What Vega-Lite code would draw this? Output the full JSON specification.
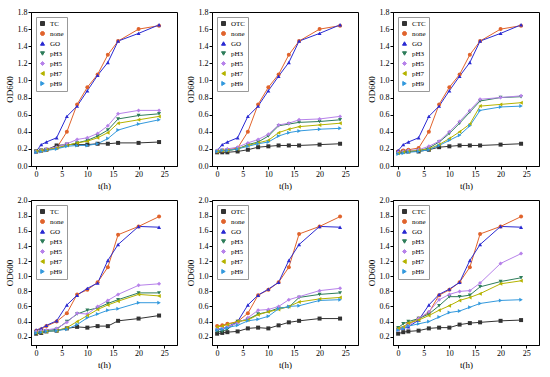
{
"$schema":"https://vega.github.io/schema/vega-lite/v6.json",
"padding":{"left":4,"top":7,"right":2,"bottom":2},
"background":"white",
"datasets":{
"a":[
{"t":0,"TC":0.17,"none":0.17,"GO":0.17,"pH3":0.17,"pH5":0.17,"pH7":0.17,"pH9":0.16},
{"t":1,"TC":0.18,"none":0.18,"GO":0.25,"pH3":0.18,"pH5":0.18,"pH7":0.18,"pH9":0.17},
{"t":2,"TC":0.19,"none":0.19,"GO":0.28,"pH3":0.19,"pH5":0.20,"pH7":0.19,"pH9":0.18},
{"t":4,"TC":0.24,"none":0.21,"GO":0.33,"pH3":0.21,"pH5":0.22,"pH7":0.21,"pH9":0.20},
{"t":6,"TC":0.25,"none":0.40,"GO":0.58,"pH3":0.24,"pH5":0.26,"pH7":0.24,"pH9":0.23},
{"t":8,"TC":0.25,"none":0.72,"GO":0.70,"pH3":0.27,"pH5":0.31,"pH7":0.27,"pH9":0.24},
{"t":10,"TC":0.25,"none":0.92,"GO":0.88,"pH3":0.30,"pH5":0.33,"pH7":0.29,"pH9":0.24},
{"t":12,"TC":0.26,"none":1.07,"GO":1.06,"pH3":0.35,"pH5":0.38,"pH7":0.33,"pH9":0.26},
{"t":14,"TC":0.26,"none":1.30,"GO":1.21,"pH3":0.42,"pH5":0.47,"pH7":0.39,"pH9":0.32},
{"t":16,"TC":0.27,"none":1.46,"GO":1.46,"pH3":0.55,"pH5":0.61,"pH7":0.50,"pH9":0.42},
{"t":20,"TC":0.27,"none":1.60,"GO":1.55,"pH3":0.59,"pH5":0.65,"pH7":0.54,"pH9":0.49},
{"t":24,"TC":0.28,"none":1.64,"GO":1.65,"pH3":0.61,"pH5":0.65,"pH7":0.58,"pH9":0.54}
],
"b":[
{"t":0,"OTC":0.16,"none":0.17,"GO":0.18,"pH3":0.17,"pH5":0.18,"pH7":0.17,"pH9":0.17},
{"t":1,"OTC":0.16,"none":0.18,"GO":0.25,"pH3":0.18,"pH5":0.19,"pH7":0.18,"pH9":0.18},
{"t":2,"OTC":0.16,"none":0.19,"GO":0.28,"pH3":0.18,"pH5":0.20,"pH7":0.18,"pH9":0.18},
{"t":4,"OTC":0.17,"none":0.21,"GO":0.33,"pH3":0.20,"pH5":0.22,"pH7":0.20,"pH9":0.20},
{"t":6,"OTC":0.19,"none":0.40,"GO":0.58,"pH3":0.25,"pH5":0.27,"pH7":0.24,"pH9":0.23},
{"t":8,"OTC":0.22,"none":0.72,"GO":0.70,"pH3":0.28,"pH5":0.31,"pH7":0.27,"pH9":0.26},
{"t":10,"OTC":0.23,"none":0.92,"GO":0.88,"pH3":0.35,"pH5":0.37,"pH7":0.30,"pH9":0.28},
{"t":12,"OTC":0.24,"none":1.07,"GO":1.05,"pH3":0.47,"pH5":0.48,"pH7":0.39,"pH9":0.35},
{"t":14,"OTC":0.24,"none":1.30,"GO":1.21,"pH3":0.49,"pH5":0.50,"pH7":0.43,"pH9":0.39},
{"t":16,"OTC":0.24,"none":1.46,"GO":1.46,"pH3":0.51,"pH5":0.54,"pH7":0.46,"pH9":0.41},
{"t":20,"OTC":0.25,"none":1.60,"GO":1.55,"pH3":0.52,"pH5":0.55,"pH7":0.48,"pH9":0.43},
{"t":24,"OTC":0.26,"none":1.64,"GO":1.65,"pH3":0.54,"pH5":0.58,"pH7":0.50,"pH9":0.44}
],
"c":[
{"t":0,"CTC":0.16,"none":0.17,"GO":0.18,"pH3":0.15,"pH5":0.16,"pH7":0.15,"pH9":0.14},
{"t":1,"CTC":0.17,"none":0.18,"GO":0.25,"pH3":0.16,"pH5":0.17,"pH7":0.16,"pH9":0.15},
{"t":2,"CTC":0.17,"none":0.19,"GO":0.28,"pH3":0.17,"pH5":0.18,"pH7":0.17,"pH9":0.16},
{"t":4,"CTC":0.17,"none":0.21,"GO":0.33,"pH3":0.18,"pH5":0.19,"pH7":0.18,"pH9":0.17},
{"t":6,"CTC":0.19,"none":0.40,"GO":0.58,"pH3":0.21,"pH5":0.23,"pH7":0.20,"pH9":0.19},
{"t":8,"CTC":0.22,"none":0.72,"GO":0.70,"pH3":0.28,"pH5":0.29,"pH7":0.25,"pH9":0.24},
{"t":10,"CTC":0.23,"none":0.92,"GO":0.88,"pH3":0.38,"pH5":0.40,"pH7":0.32,"pH9":0.30},
{"t":12,"CTC":0.24,"none":1.07,"GO":1.05,"pH3":0.50,"pH5":0.52,"pH7":0.40,"pH9":0.36},
{"t":14,"CTC":0.24,"none":1.30,"GO":1.21,"pH3":0.63,"pH5":0.65,"pH7":0.49,"pH9":0.47},
{"t":16,"CTC":0.24,"none":1.46,"GO":1.46,"pH3":0.76,"pH5":0.78,"pH7":0.70,"pH9":0.65},
{"t":20,"CTC":0.25,"none":1.60,"GO":1.55,"pH3":0.80,"pH5":0.80,"pH7":0.72,"pH9":0.69},
{"t":24,"CTC":0.26,"none":1.64,"GO":1.65,"pH3":0.81,"pH5":0.82,"pH7":0.74,"pH9":0.70}
],
"d":[
{"t":0,"TC":0.24,"none":0.28,"GO":0.29,"pH3":0.26,"pH5":0.27,"pH7":0.25,"pH9":0.25},
{"t":1,"TC":0.25,"none":0.30,"GO":0.31,"pH3":0.27,"pH5":0.28,"pH7":0.26,"pH9":0.26},
{"t":2,"TC":0.27,"none":0.34,"GO":0.35,"pH3":0.28,"pH5":0.29,"pH7":0.27,"pH9":0.27},
{"t":4,"TC":0.28,"none":0.40,"GO":0.41,"pH3":0.30,"pH5":0.31,"pH7":0.28,"pH9":0.28},
{"t":6,"TC":0.31,"none":0.51,"GO":0.62,"pH3":0.40,"pH5":0.39,"pH7":0.32,"pH9":0.30},
{"t":8,"TC":0.33,"none":0.76,"GO":0.75,"pH3":0.50,"pH5":0.51,"pH7":0.40,"pH9":0.36},
{"t":10,"TC":0.32,"none":0.82,"GO":0.84,"pH3":0.55,"pH5":0.50,"pH7":0.48,"pH9":0.45},
{"t":12,"TC":0.34,"none":0.92,"GO":0.91,"pH3":0.58,"pH5":0.60,"pH7":0.56,"pH9":0.50},
{"t":14,"TC":0.34,"none":1.12,"GO":1.21,"pH3":0.64,"pH5":0.68,"pH7":0.62,"pH9":0.55},
{"t":16,"TC":0.41,"none":1.55,"GO":1.42,"pH3":0.69,"pH5":0.76,"pH7":0.67,"pH9":0.57},
{"t":20,"TC":0.44,"none":1.66,"GO":1.66,"pH3":0.78,"pH5":0.88,"pH7":0.76,"pH9":0.65},
{"t":24,"TC":0.48,"none":1.79,"GO":1.65,"pH3":0.78,"pH5":0.90,"pH7":0.74,"pH9":0.65}
],
"e":[
{"t":0,"OTC":0.24,"none":0.34,"GO":0.30,"pH3":0.27,"pH5":0.30,"pH7":0.33,"pH9":0.29},
{"t":1,"OTC":0.25,"none":0.35,"GO":0.31,"pH3":0.27,"pH5":0.31,"pH7":0.34,"pH9":0.30},
{"t":2,"OTC":0.26,"none":0.37,"GO":0.33,"pH3":0.30,"pH5":0.33,"pH7":0.36,"pH9":0.32},
{"t":4,"OTC":0.27,"none":0.40,"GO":0.40,"pH3":0.40,"pH5":0.38,"pH7":0.40,"pH9":0.35},
{"t":6,"OTC":0.31,"none":0.51,"GO":0.62,"pH3":0.43,"pH5":0.45,"pH7":0.42,"pH9":0.41},
{"t":8,"OTC":0.32,"none":0.75,"GO":0.75,"pH3":0.50,"pH5":0.55,"pH7":0.49,"pH9":0.43},
{"t":10,"OTC":0.31,"none":0.82,"GO":0.83,"pH3":0.53,"pH5":0.56,"pH7":0.53,"pH9":0.47},
{"t":12,"OTC":0.35,"none":0.92,"GO":0.92,"pH3":0.58,"pH5":0.60,"pH7":0.56,"pH9":0.57},
{"t":14,"OTC":0.39,"none":1.12,"GO":1.21,"pH3":0.59,"pH5":0.69,"pH7":0.60,"pH9":0.60},
{"t":16,"OTC":0.41,"none":1.56,"GO":1.42,"pH3":0.72,"pH5":0.73,"pH7":0.66,"pH9":0.61},
{"t":20,"OTC":0.44,"none":1.66,"GO":1.66,"pH3":0.76,"pH5":0.81,"pH7":0.70,"pH9":0.68},
{"t":24,"OTC":0.44,"none":1.79,"GO":1.65,"pH3":0.78,"pH5":0.84,"pH7":0.72,"pH9":0.69}
],
"f":[
{"t":0,"CTC":0.24,"none":0.31,"GO":0.30,"pH3":0.32,"pH5":0.29,"pH7":0.31,"pH9":0.29},
{"t":1,"CTC":0.26,"none":0.32,"GO":0.31,"pH3":0.37,"pH5":0.32,"pH7":0.33,"pH9":0.31},
{"t":2,"CTC":0.27,"none":0.37,"GO":0.33,"pH3":0.40,"pH5":0.35,"pH7":0.38,"pH9":0.34},
{"t":4,"CTC":0.28,"none":0.44,"GO":0.42,"pH3":0.44,"pH5":0.44,"pH7":0.42,"pH9":0.37},
{"t":6,"CTC":0.31,"none":0.52,"GO":0.62,"pH3":0.50,"pH5":0.53,"pH7":0.48,"pH9":0.40},
{"t":8,"CTC":0.32,"none":0.75,"GO":0.76,"pH3":0.61,"pH5":0.69,"pH7":0.55,"pH9":0.46},
{"t":10,"CTC":0.32,"none":0.82,"GO":0.83,"pH3":0.73,"pH5":0.76,"pH7":0.61,"pH9":0.52},
{"t":12,"CTC":0.36,"none":0.92,"GO":0.92,"pH3":0.73,"pH5":0.80,"pH7":0.68,"pH9":0.54},
{"t":14,"CTC":0.38,"none":1.12,"GO":1.21,"pH3":0.75,"pH5":0.81,"pH7":0.72,"pH9":0.59},
{"t":16,"CTC":0.39,"none":1.56,"GO":1.42,"pH3":0.86,"pH5":0.91,"pH7":0.77,"pH9":0.64},
{"t":20,"CTC":0.41,"none":1.66,"GO":1.66,"pH3":0.93,"pH5":1.17,"pH7":0.90,"pH9":0.68},
{"t":24,"CTC":0.42,"none":1.79,"GO":1.65,"pH3":0.98,"pH5":1.30,"pH7":0.94,"pH9":0.69}
]
},
"spacing":5,
"resolve":{"scale":{"color":"independent","shape":"independent"},"legend":{"color":"independent","shape":"independent"}},
"vconcat":[
{"hconcat":[
{"width":146,"height":154,
 "encoding":{"x":{"field":"t","type":"quantitative","scale":{"domain":[-1,27.5],"nice":false,"zero":false},"axis":{"values":[0,5,10,15,20,25],"title":"t(h)"}},
  "y":{"field":"v","type":"quantitative","scale":{"domain":[0,1.8],"nice":false},"axis":{"values":[0,0.2,0.4,0.6,0.8,1.0,1.2,1.4,1.6,1.8],"format":".1f","title":"OD600"}}},
 "layer":[
  {"data":{"name":"a"},"transform":[{"fold":["TC","none","GO","pH3","pH5","pH7","pH9"],"as":["s","v"]}],
   "mark":{"type":"line","strokeWidth":1},
   "encoding":{"color":{"field":"s","type":"nominal","scale":{"domain":["TC","none","GO","pH3","pH5","pH7","pH9"],"range":["#333333","#e0632c","#2a2ad2","#2e7d5a","#b782ea","#b5b300","#3399dd"]},"legend":{"title":null}}}},
  {"data":{"name":"a"},"transform":[{"fold":["TC","none","GO","pH3","pH5","pH7","pH9"],"as":["s","v"]}],
   "mark":{"type":"point","filled":true,"size":16,"opacity":1},
   "encoding":{"color":{"field":"s","type":"nominal","scale":{"domain":["TC","none","GO","pH3","pH5","pH7","pH9"],"range":["#333333","#e0632c","#2a2ad2","#2e7d5a","#b782ea","#b5b300","#3399dd"]},"legend":{"title":null}},
    "shape":{"field":"s","type":"nominal","scale":{"domain":["TC","none","GO","pH3","pH5","pH7","pH9"],"range":["square","circle","triangle-up","triangle-down","diamond","triangle-left","triangle-right"]},"legend":{"title":null}}}},
  {"data":{"values":[{}]},"mark":{"type":"text","fontSize":19,"font":"Liberation Serif","color":"#000"},
   "encoding":{"x":{"datum":21.5},"y":{"datum":1.19},"text":{"value":"(a)"}}}
 ]},
{"width":146,"height":154,
 "encoding":{"x":{"field":"t","type":"quantitative","scale":{"domain":[-1,27.5],"nice":false,"zero":false},"axis":{"values":[0,5,10,15,20,25],"title":"t(h)"}},
  "y":{"field":"v","type":"quantitative","scale":{"domain":[0,1.8],"nice":false},"axis":{"values":[0,0.2,0.4,0.6,0.8,1.0,1.2,1.4,1.6,1.8],"format":".1f","title":"OD600"}}},
 "layer":[
  {"data":{"name":"b"},"transform":[{"fold":["OTC","none","GO","pH3","pH5","pH7","pH9"],"as":["s","v"]}],
   "mark":{"type":"line","strokeWidth":1},
   "encoding":{"color":{"field":"s","type":"nominal","scale":{"domain":["OTC","none","GO","pH3","pH5","pH7","pH9"],"range":["#333333","#e0632c","#2a2ad2","#2e7d5a","#b782ea","#b5b300","#3399dd"]},"legend":{"title":null}}}},
  {"data":{"name":"b"},"transform":[{"fold":["OTC","none","GO","pH3","pH5","pH7","pH9"],"as":["s","v"]}],
   "mark":{"type":"point","filled":true,"size":16,"opacity":1},
   "encoding":{"color":{"field":"s","type":"nominal","scale":{"domain":["OTC","none","GO","pH3","pH5","pH7","pH9"],"range":["#333333","#e0632c","#2a2ad2","#2e7d5a","#b782ea","#b5b300","#3399dd"]},"legend":{"title":null}},
    "shape":{"field":"s","type":"nominal","scale":{"domain":["OTC","none","GO","pH3","pH5","pH7","pH9"],"range":["square","circle","triangle-up","triangle-down","diamond","triangle-left","triangle-right"]},"legend":{"title":null}}}},
  {"data":{"values":[{}]},"mark":{"type":"text","fontSize":19,"font":"Liberation Serif","color":"#000"},
   "encoding":{"x":{"datum":22.2},"y":{"datum":1.13},"text":{"value":"(b)"}}}
 ]},
{"width":146,"height":154,
 "encoding":{"x":{"field":"t","type":"quantitative","scale":{"domain":[-1,27.5],"nice":false,"zero":false},"axis":{"values":[0,5,10,15,20,25],"title":"t(h)"}},
  "y":{"field":"v","type":"quantitative","scale":{"domain":[0,1.8],"nice":false},"axis":{"values":[0,0.2,0.4,0.6,0.8,1.0,1.2,1.4,1.6,1.8],"format":".1f","title":"OD600"}}},
 "layer":[
  {"data":{"name":"c"},"transform":[{"fold":["CTC","none","GO","pH3","pH5","pH7","pH9"],"as":["s","v"]}],
   "mark":{"type":"line","strokeWidth":1},
   "encoding":{"color":{"field":"s","type":"nominal","scale":{"domain":["CTC","none","GO","pH3","pH5","pH7","pH9"],"range":["#333333","#e0632c","#2a2ad2","#2e7d5a","#b782ea","#b5b300","#3399dd"]},"legend":{"title":null}}}},
  {"data":{"name":"c"},"transform":[{"fold":["CTC","none","GO","pH3","pH5","pH7","pH9"],"as":["s","v"]}],
   "mark":{"type":"point","filled":true,"size":16,"opacity":1},
   "encoding":{"color":{"field":"s","type":"nominal","scale":{"domain":["CTC","none","GO","pH3","pH5","pH7","pH9"],"range":["#333333","#e0632c","#2a2ad2","#2e7d5a","#b782ea","#b5b300","#3399dd"]},"legend":{"title":null}},
    "shape":{"field":"s","type":"nominal","scale":{"domain":["CTC","none","GO","pH3","pH5","pH7","pH9"],"range":["square","circle","triangle-up","triangle-down","diamond","triangle-left","triangle-right"]},"legend":{"title":null}}}},
  {"data":{"values":[{}]},"mark":{"type":"text","fontSize":19,"font":"Liberation Serif","fontWeight":"bold","color":"#000"},
   "encoding":{"x":{"datum":23.8},"y":{"datum":0.99},"text":{"value":"(c)"}}}
 ]}
],"spacing":7,"resolve":{"scale":{"color":"independent","shape":"independent"},"legend":{"color":"independent","shape":"independent"}}},
{"hconcat":[
{"width":146,"height":145,
 "encoding":{"x":{"field":"t","type":"quantitative","scale":{"domain":[-1,27.5],"nice":false,"zero":false},"axis":{"values":[0,5,10,15,20,25],"title":"t(h)"}},
  "y":{"field":"v","type":"quantitative","scale":{"domain":[0.09,2.01],"nice":false,"zero":false},"axis":{"values":[0.2,0.4,0.6,0.8,1.0,1.2,1.4,1.6,1.8,2.0],"format":".1f","title":"OD600"}}},
 "layer":[
  {"data":{"name":"d"},"transform":[{"fold":["TC","none","GO","pH3","pH5","pH7","pH9"],"as":["s","v"]}],
   "mark":{"type":"line","strokeWidth":1},
   "encoding":{"color":{"field":"s","type":"nominal","scale":{"domain":["TC","none","GO","pH3","pH5","pH7","pH9"],"range":["#333333","#e0632c","#2a2ad2","#2e7d5a","#b782ea","#b5b300","#3399dd"]},"legend":{"title":null}}}},
  {"data":{"name":"d"},"transform":[{"fold":["TC","none","GO","pH3","pH5","pH7","pH9"],"as":["s","v"]}],
   "mark":{"type":"point","filled":true,"size":16,"opacity":1},
   "encoding":{"color":{"field":"s","type":"nominal","scale":{"domain":["TC","none","GO","pH3","pH5","pH7","pH9"],"range":["#333333","#e0632c","#2a2ad2","#2e7d5a","#b782ea","#b5b300","#3399dd"]},"legend":{"title":null}},
    "shape":{"field":"s","type":"nominal","scale":{"domain":["TC","none","GO","pH3","pH5","pH7","pH9"],"range":["square","circle","triangle-up","triangle-down","diamond","triangle-left","triangle-right"]},"legend":{"title":null}}}},
  {"data":{"values":[{}]},"mark":{"type":"text","fontSize":19,"font":"Liberation Serif","color":"#000"},
   "encoding":{"x":{"datum":21.7},"y":{"datum":1.28},"text":{"value":"(d)"}}}
 ]},
{"width":146,"height":145,
 "encoding":{"x":{"field":"t","type":"quantitative","scale":{"domain":[-1,27.5],"nice":false,"zero":false},"axis":{"values":[0,5,10,15,20,25],"title":"t(h)"}},
  "y":{"field":"v","type":"quantitative","scale":{"domain":[0.09,2.01],"nice":false,"zero":false},"axis":{"values":[0.2,0.4,0.6,0.8,1.0,1.2,1.4,1.6,1.8,2.0],"format":".1f","title":"OD600"}}},
 "layer":[
  {"data":{"name":"e"},"transform":[{"fold":["OTC","none","GO","pH3","pH5","pH7","pH9"],"as":["s","v"]}],
   "mark":{"type":"line","strokeWidth":1},
   "encoding":{"color":{"field":"s","type":"nominal","scale":{"domain":["OTC","none","GO","pH3","pH5","pH7","pH9"],"range":["#333333","#e0632c","#2a2ad2","#2e7d5a","#b782ea","#b5b300","#3399dd"]},"legend":{"title":null}}}},
  {"data":{"name":"e"},"transform":[{"fold":["OTC","none","GO","pH3","pH5","pH7","pH9"],"as":["s","v"]}],
   "mark":{"type":"point","filled":true,"size":16,"opacity":1},
   "encoding":{"color":{"field":"s","type":"nominal","scale":{"domain":["OTC","none","GO","pH3","pH5","pH7","pH9"],"range":["#333333","#e0632c","#2a2ad2","#2e7d5a","#b782ea","#b5b300","#3399dd"]},"legend":{"title":null}},
    "shape":{"field":"s","type":"nominal","scale":{"domain":["OTC","none","GO","pH3","pH5","pH7","pH9"],"range":["square","circle","triangle-up","triangle-down","diamond","triangle-left","triangle-right"]},"legend":{"title":null}}}},
  {"data":{"values":[{}]},"mark":{"type":"text","fontSize":19,"font":"Liberation Serif","color":"#000"},
   "encoding":{"x":{"datum":23.5},"y":{"datum":1.28},"text":{"value":"(e)"}}}
 ]},
{"width":146,"height":145,
 "encoding":{"x":{"field":"t","type":"quantitative","scale":{"domain":[-1,27.5],"nice":false,"zero":false},"axis":{"values":[0,5,10,15,20,25],"title":"t(h)"}},
  "y":{"field":"v","type":"quantitative","scale":{"domain":[0.09,2.01],"nice":false,"zero":false},"axis":{"values":[0.2,0.4,0.6,0.8,1.0,1.2,1.4,1.6,1.8,2.0],"format":".1f","title":"OD600"}}},
 "layer":[
  {"data":{"name":"f"},"transform":[{"fold":["CTC","none","GO","pH3","pH5","pH7","pH9"],"as":["s","v"]}],
   "mark":{"type":"line","strokeWidth":1},
   "encoding":{"color":{"field":"s","type":"nominal","scale":{"domain":["CTC","none","GO","pH3","pH5","pH7","pH9"],"range":["#333333","#e0632c","#2a2ad2","#2e7d5a","#b782ea","#b5b300","#3399dd"]},"legend":{"title":null}}}},
  {"data":{"name":"f"},"transform":[{"fold":["CTC","none","GO","pH3","pH5","pH7","pH9"],"as":["s","v"]}],
   "mark":{"type":"point","filled":true,"size":16,"opacity":1},
   "encoding":{"color":{"field":"s","type":"nominal","scale":{"domain":["CTC","none","GO","pH3","pH5","pH7","pH9"],"range":["#333333","#e0632c","#2a2ad2","#2e7d5a","#b782ea","#b5b300","#3399dd"]},"legend":{"title":null}},
    "shape":{"field":"s","type":"nominal","scale":{"domain":["CTC","none","GO","pH3","pH5","pH7","pH9"],"range":["square","circle","triangle-up","triangle-down","diamond","triangle-left","triangle-right"]},"legend":{"title":null}}}},
  {"data":{"values":[{}]},"mark":{"type":"text","fontSize":19,"font":"Liberation Serif","color":"#000"},
   "encoding":{"x":{"datum":21.7},"y":{"datum":1.39},"text":{"value":"(f)"}}}
 ]}
],"spacing":7,"resolve":{"scale":{"color":"independent","shape":"independent"},"legend":{"color":"independent","shape":"independent"}}}
],
"config":{
 "font":"Liberation Serif",
 "view":{"stroke":"#000","strokeWidth":1},
 "axis":{"grid":false,"domainColor":"#000","tickColor":"#000","labelColor":"#000","titleColor":"#000","labelFont":"Liberation Serif","titleFont":"Liberation Serif","labelFontSize":8,"titleFontSize":9,"titleFontWeight":"normal","tickSize":3,"labelPadding":1,"titlePadding":3},
 "legend":{"orient":"top-left","offset":5,"strokeColor":"#999","fillColor":"#fff","padding":3,"labelFont":"Liberation Serif","labelFontSize":7,"labelColor":"#000","symbolSize":16,"rowPadding":1,"symbolStrokeWidth":1,"labelLimit":40}
}
}
